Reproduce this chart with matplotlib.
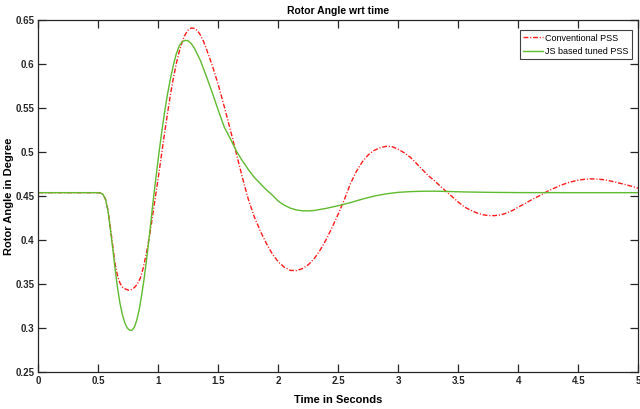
import numpy as np
import matplotlib
matplotlib.use('Agg')
import matplotlib.pyplot as plt
from matplotlib.ticker import FuncFormatter

plt.rcParams['font.family'] = ['Liberation Sans', 'DejaVu Sans']

# conventional PSS response
t_conv = [0, 0.50, 0.52, 0.54, 0.56, 0.58, 0.60, 0.62, 0.64, 0.66, 0.68, 0.70,
          0.725, 0.75, 0.775, 0.80, 0.825, 0.85, 0.875, 0.90, 0.925, 0.95,
          0.975, 1.00, 1.025, 1.05, 1.075, 1.10, 1.125, 1.15, 1.175, 1.20,
          1.225, 1.25, 1.275, 1.30, 1.325, 1.35, 1.375, 1.40, 1.45, 1.50,
          1.55, 1.60, 1.65, 1.70, 1.75, 1.80, 1.85, 1.90, 1.95, 2.00, 2.05,
          2.10, 2.15, 2.20, 2.25, 2.30, 2.35, 2.40, 2.45, 2.50, 2.55, 2.60,
          2.65, 2.70, 2.75, 2.80, 2.85, 2.90, 2.95, 3.00, 3.05, 3.10, 3.15,
          3.20, 3.25, 3.30, 3.35, 3.40, 3.45, 3.50, 3.55, 3.60, 3.65, 3.70,
          3.75, 3.80, 3.85, 3.90, 3.95, 4.00, 4.05, 4.10, 4.15, 4.20, 4.25,
          4.30, 4.35, 4.40, 4.45, 4.50, 4.55, 4.60, 4.65, 4.70, 4.75, 4.80,
          4.85, 4.90, 4.95, 5.00]
v_conv = [0.4538, 0.4538, 0.4534, 0.4515, 0.446, 0.434, 0.414, 0.393, 0.372,
          0.359, 0.351, 0.3465, 0.3443, 0.343, 0.3435, 0.346, 0.350, 0.357,
          0.369, 0.385, 0.404, 0.426, 0.449, 0.472, 0.496, 0.520, 0.543,
          0.565, 0.584, 0.601, 0.615, 0.626, 0.634, 0.639, 0.641, 0.6405,
          0.638, 0.633, 0.626, 0.617, 0.598, 0.576, 0.551, 0.525, 0.498,
          0.471, 0.446, 0.426, 0.410, 0.396, 0.384, 0.375, 0.369, 0.3655,
          0.3652, 0.3675, 0.372, 0.379, 0.389, 0.401, 0.415, 0.430, 0.446,
          0.464, 0.478, 0.489, 0.497, 0.502, 0.505, 0.5065, 0.506, 0.503,
          0.499, 0.494, 0.487, 0.480, 0.473, 0.4675, 0.461, 0.455, 0.449,
          0.443, 0.4375, 0.434, 0.431, 0.4288, 0.4278, 0.4277, 0.4285,
          0.4305, 0.4335, 0.4375, 0.441, 0.445, 0.4485, 0.452, 0.456, 0.459,
          0.462, 0.4645, 0.4665, 0.468, 0.469, 0.4695, 0.4693, 0.4687,
          0.4676, 0.466, 0.4644, 0.4627, 0.4608, 0.4588]

# JS based tuned PSS response
t_js = [0, 0.50, 0.52, 0.54, 0.56, 0.58, 0.60, 0.62, 0.64, 0.66, 0.68, 0.70,
        0.72, 0.74, 0.76, 0.78, 0.80, 0.82, 0.84, 0.86, 0.88, 0.90, 0.925,
        0.95, 0.975, 1.00, 1.025, 1.05, 1.075, 1.10, 1.125, 1.15, 1.175,
        1.20, 1.225, 1.25, 1.275, 1.30, 1.35, 1.40, 1.45, 1.50, 1.55, 1.60,
        1.65, 1.70, 1.75, 1.80, 1.85, 1.90, 1.95, 2.00, 2.05, 2.10, 2.15,
        2.20, 2.25, 2.30, 2.40, 2.50, 2.60, 2.70, 2.80, 2.90, 3.00, 3.10,
        3.20, 3.30, 3.40, 3.50, 3.60, 3.80, 4.00, 4.50, 5.00]
v_js = [0.4538, 0.4538, 0.4534, 0.4515, 0.446, 0.433, 0.412, 0.390, 0.366,
        0.345, 0.328, 0.315, 0.306, 0.300, 0.2975, 0.2975, 0.301, 0.309,
        0.321, 0.337, 0.355, 0.376, 0.405, 0.437, 0.466, 0.494, 0.520,
        0.544, 0.565, 0.583, 0.599, 0.612, 0.621, 0.6255, 0.627, 0.6262,
        0.623, 0.618, 0.604, 0.586, 0.567, 0.547, 0.528, 0.515, 0.501,
        0.490, 0.480, 0.471, 0.464, 0.457, 0.451, 0.444, 0.4395, 0.4362,
        0.4342, 0.4332, 0.4331, 0.4336, 0.436, 0.439, 0.4425, 0.4465, 0.450,
        0.4525, 0.4542, 0.455, 0.4554, 0.4555, 0.4552, 0.4548, 0.4545,
        0.4541, 0.4539, 0.4538, 0.4538]

fig = plt.figure(figsize=(6.4, 4.09), dpi=100)
ax = fig.add_axes([0.060, 0.0905, 0.9375, 0.8605])

ax.plot(t_conv, v_conv, color='#ff1a1a', lw=1.0, dashes=(3.5, 1.3, 0.8, 1.3),
        label='Conventional PSS')
ax.plot(t_js, v_js, '-', color='#5fba2e', lw=1.0, label='JS based tuned PSS')

ax.set_xlim(0, 5)
ax.set_ylim(0.25, 0.65)
ax.set_xticks(np.arange(0, 5.01, 0.5))
ax.set_yticks(np.arange(0.25, 0.651, 0.05))
fmt = FuncFormatter(lambda v, p: '%g' % round(v, 2))
ax.xaxis.set_major_formatter(fmt)
ax.yaxis.set_major_formatter(fmt)
ax.tick_params(direction='in', length=5.8, width=0.9, top=True, right=True,
               labelsize=7, pad=3, colors='#262626')
for lab in ax.get_xticklabels() + ax.get_yticklabels():
    lab.set_fontweight('bold')
for s in ax.spines.values():
    s.set_linewidth(0.9)
    s.set_color('#262626')

ax.set_title('Rotor Angle wrt time', fontsize=7.5, fontweight='bold', pad=4)
ax.set_xlabel('Time in Seconds', fontsize=8, fontweight='bold')
ax.set_ylabel('Rotor Angle in Degree', fontsize=8, fontweight='bold')
ax.xaxis.set_label_coords(0.5, -0.065)
ax.yaxis.set_label_coords(-0.041, 0.5)

leg = ax.legend(loc='upper right', bbox_to_anchor=(0.989, 0.9716),
                fontsize=6.5, fancybox=False, framealpha=1,
                edgecolor='#404040', borderpad=0.4, handlelength=2.2,
                handletextpad=0.2, labelspacing=0.45, borderaxespad=0)
leg.get_frame().set_linewidth(0.8)

fig.savefig('out.png', dpi=100)
